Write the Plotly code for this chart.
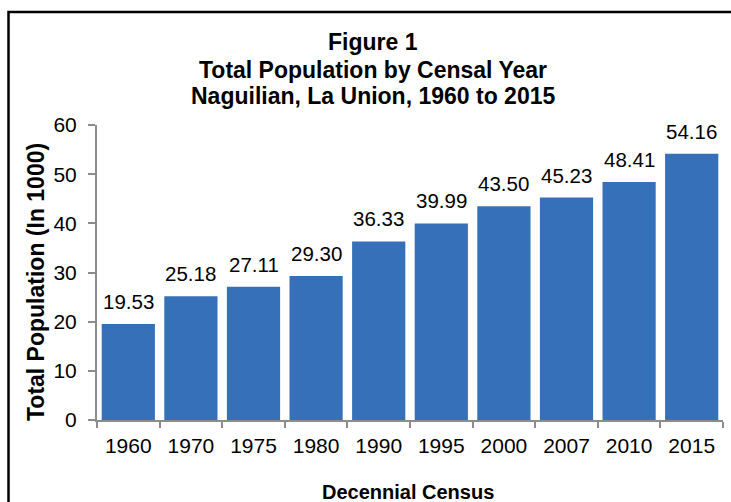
import plotly.graph_objects as go

years = ["1960", "1970", "1975", "1980", "1990", "1995", "2000", "2007", "2010", "2015"]
population = [19.53, 25.18, 27.11, 29.30, 36.33, 39.99, 43.50, 45.23, 48.41, 54.16]

title_lines = ["Figure 1", "Total Population by Censal Year", "Naguilian, La Union, 1960 to 2015"]
x_title = "Decennial Census"
y_title = "Total Population (In 1000)"

W, H = 731, 502
ML, MR, MT, MB = 97, 8, 125, 82
PW, PH = W - ML - MR, H - MT - MB

def px_x(x):
    return (x - ML) / PW

def px_y(y):
    return (H - MB - y) / PH

FONT = "Liberation Sans, Arial, sans-serif"
AXIS_COLOR = "#8c8c8c"

fig = go.Figure(go.Bar(
    x=years,
    y=population,
    marker=dict(color="#3670b8", line=dict(width=0)),
    hoverinfo="x+y",
))

annotations = []
# value labels above the bars (category axis: annotation x is the category index)
for idx, val in enumerate(population):
    annotations.append(dict(
        x=idx, y=val, xref="x", yref="y", text=f"{val:.2f}",
        showarrow=False, xanchor="center", yanchor="bottom", yshift=9,
        font=dict(family=FONT, size=20.5, color="black"),
    ))

# title lines
title_centers = [42, 70, 96]
for line, yc in zip(title_lines, title_centers):
    annotations.append(dict(
        text="<b>" + line + "</b>", xref="paper", yref="paper",
        x=px_x(373), y=px_y(yc), xanchor="center", yanchor="middle",
        showarrow=False, font=dict(family=FONT, size=23, color="black"),
    ))

annotations.append(dict(
    text="<b>" + x_title + "</b>", xref="paper", yref="paper",
    x=px_x(408), y=px_y(492), xanchor="center", yanchor="middle",
    showarrow=False, font=dict(family=FONT, size=20, color="black")))
annotations.append(dict(
    text="<b>" + y_title + "</b>", xref="paper", yref="paper",
    x=px_x(36), y=px_y(282), xanchor="center", yanchor="middle",
    textangle=-90, showarrow=False, font=dict(family=FONT, size=23, color="black")))

fig.update_layout(
    width=W, height=H,
    margin=dict(l=ML, r=MR, t=MT, b=MB),
    paper_bgcolor="white",
    plot_bgcolor="white",
    bargap=0.15,
    showlegend=False,
    font=dict(family=FONT, color="black"),
    xaxis=dict(
        type="category",
        range=[-0.5, len(years) - 0.5],
        showline=True, linecolor=AXIS_COLOR, linewidth=2,
        ticks="outside", tickson="boundaries", ticklen=6, tickcolor=AXIS_COLOR, tickwidth=2,
        tickfont=dict(family=FONT, size=21, color="black"),
        tickangle=0,
        ticklabelstandoff=6,
        showgrid=False,
    ),
    yaxis=dict(
        range=[0, 60], dtick=10,
        showline=True, linecolor=AXIS_COLOR, linewidth=2,
        ticks="outside", ticklen=7, tickcolor=AXIS_COLOR, tickwidth=2,
        tickfont=dict(family=FONT, size=21, color="black"),
        ticklabelstandoff=7,
        showgrid=False, zeroline=False,
    ),
    annotations=annotations,
    shapes=[
        dict(type="rect", xref="paper", yref="paper",
             x0=px_x(8.5), x1=px_x(760), y0=px_y(540), y1=px_y(12),
             line=dict(color="black", width=2.5), fillcolor="rgba(0,0,0,0)", layer="above"),
    ],
)

fig.write_html("out.html", config={"displayModeBar": False},
               post_script="document.body.style.margin='0';document.body.style.overflow='hidden';")
